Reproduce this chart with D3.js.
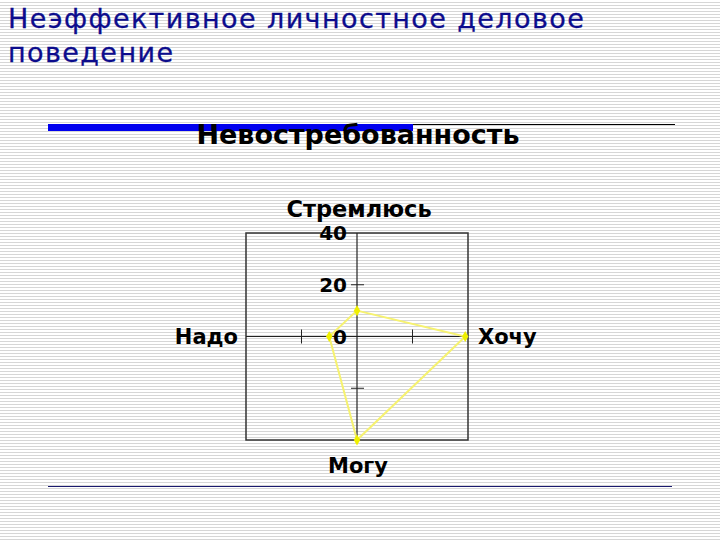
<!DOCTYPE html>
<html>
<head>
<meta charset="utf-8">
<script src="https://cdn.jsdelivr.net/npm/d3@7"></script>
<style>
  body { margin: 0; background: #fff; }
  svg { display: block; }
</style>
</head>
<body>
<div id="chart"></div>
<script>
// radar data: axes go up, right, down, left
const axes = ["Стремлюсь", "Хочу", "Могу", "Надо"];
const values = [10, 39, 40, 10];
const tickValues = [0, 20, 40];
const slideTitle = ["Неэффективное личностное деловое", "поведение"];
const chartTitle = "Невостребованность";

const width = 720, height = 540;
const font = "DejaVu Sans, Verdana, sans-serif";

const svg = d3.select("#chart")
  .append("svg")
  .attr("width", width)
  .attr("height", height);

// striped slide background
const defs = svg.append("defs");
const pat = defs.append("pattern")
  .attr("id", "stripes")
  .attr("patternUnits", "userSpaceOnUse")
  .attr("width", 6)
  .attr("height", 3);
pat.append("rect").attr("width", 6).attr("height", 3).attr("fill", "#fff");
pat.append("rect").attr("y", 2).attr("width", 6).attr("height", 1).attr("fill", "#d6d6d6");
svg.append("rect").attr("width", width).attr("height", height).attr("fill", "url(#stripes)");

// slide heading
svg.append("text")
  .attr("font-family", font)
  .attr("font-size", 27)
  .attr("letter-spacing", 1.4)
  .attr("fill", "#0c0c8c")
  .attr("stroke", "#0c0c8c")
  .attr("stroke-width", 0.3)
  .selectAll("tspan")
  .data(slideTitle)
  .enter()
  .append("tspan")
  .attr("x", 8)
  .attr("y", (d, i) => 28 + i * 34)
  .text(d => d);

// top decoration: thick blue bar + thin black line, bottom thin line
svg.append("rect").attr("x", 48).attr("y", 124).attr("width", 365).attr("height", 7).attr("fill", "#0000ee");
svg.append("line").attr("x1", 413).attr("x2", 675).attr("y1", 124.5).attr("y2", 124.5).attr("stroke", "#000").attr("stroke-width", 1);
svg.append("line").attr("x1", 48).attr("x2", 672).attr("y1", 486.5).attr("y2", 486.5).attr("stroke", "#1a1a6e").attr("stroke-width", 1.2);

svg.append("text")
  .attr("x", 358)
  .attr("y", 144)
  .attr("text-anchor", "middle")
  .attr("font-family", font)
  .attr("font-weight", "bold")
  .attr("font-size", 27)
  .attr("fill", "#000")
  .text(chartTitle);

// scales
const x = d3.scaleLinear().domain([-40, 40]).range([246, 468]);
const y = d3.scaleLinear().domain([-40, 40]).range([440, 233]);

// plot frame
svg.append("rect")
  .attr("x", x(-40))
  .attr("y", y(40))
  .attr("width", x(40) - x(-40))
  .attr("height", y(-40) - y(40))
  .attr("fill", "none")
  .attr("stroke", "#333")
  .attr("stroke-width", 1.5);

// axes crossing at center
svg.append("line")
  .attr("x1", x(0)).attr("x2", x(0))
  .attr("y1", y(40)).attr("y2", y(-40))
  .attr("stroke", "#222").attr("stroke-width", 1.2);
svg.append("line")
  .attr("x1", x(-40)).attr("x2", x(40))
  .attr("y1", y(0)).attr("y2", y(0))
  .attr("stroke", "#222").attr("stroke-width", 1.2);

// tick marks
svg.selectAll(".vtick")
  .data([20, -20])
  .enter()
  .append("line")
  .attr("x1", x(0) - 6).attr("x2", x(0) + 7)
  .attr("y1", d => y(d)).attr("y2", d => y(d))
  .attr("stroke", "#222").attr("stroke-width", 1);
svg.selectAll(".htick")
  .data([20, -20])
  .enter()
  .append("line")
  .attr("x1", d => x(d)).attr("x2", d => x(d))
  .attr("y1", y(0) - 7).attr("y2", y(0) + 7)
  .attr("stroke", "#222").attr("stroke-width", 1);

// tick labels on the vertical axis
svg.selectAll(".tlabel")
  .data(tickValues)
  .enter()
  .append("text")
  .attr("x", x(0) - 10)
  .attr("y", d => y(d))
  .attr("dy", "0.36em")
  .attr("text-anchor", "end")
  .attr("font-family", font)
  .attr("font-weight", "bold")
  .attr("font-size", 20)
  .text(d => d);

// axis labels
const labelPos = [
  { x: x(0) + 2, y: y(40) - 24, anchor: "middle", size: 22.5 },
  { x: x(40) + 10, y: y(0), anchor: "start", size: 21 },
  { x: x(0) + 1, y: y(-40) + 25, anchor: "middle", size: 21 },
  { x: x(-40) - 8, y: y(0), anchor: "end", size: 21 }
];
svg.selectAll(".alabel")
  .data(axes)
  .enter()
  .append("text")
  .attr("x", (d, i) => labelPos[i].x)
  .attr("y", (d, i) => labelPos[i].y)
  .attr("dy", "0.36em")
  .attr("text-anchor", (d, i) => labelPos[i].anchor)
  .attr("font-family", font)
  .attr("font-weight", "bold")
  .attr("font-size", (d, i) => labelPos[i].size)
  .text(d => d);

// data polygon
const pts = values.map((v, i) => {
  if (i === 0) return [x(0), y(v)];
  if (i === 1) return [x(v), y(0)];
  if (i === 2) return [x(0), y(-v)];
  return [x(-v), y(0)];
});

svg.append("path")
  .attr("d", d3.line()(pts) + "Z")
  .attr("fill", "none")
  .attr("stroke", "#f6f270")
  .attr("stroke-width", 2);

svg.selectAll(".pt")
  .data(pts)
  .enter()
  .append("path")
  .attr("transform", d => `translate(${d[0]},${d[1]})`)
  .attr("d", d3.symbol().type(d3.symbolDiamond).size(36))
  .attr("fill", "#f0f000");
</script>
</body>
</html>
